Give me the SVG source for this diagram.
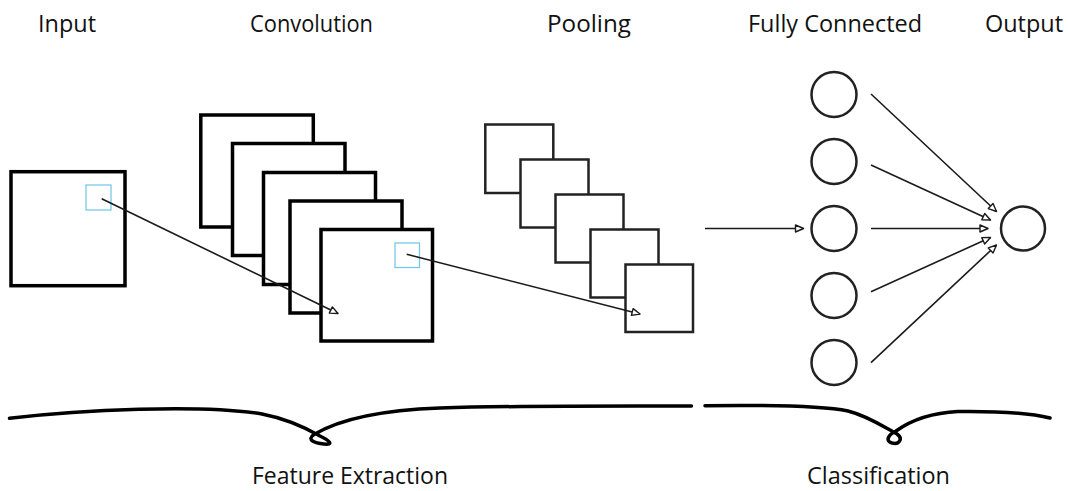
<svg xmlns="http://www.w3.org/2000/svg" width="1068" height="491" viewBox="0 0 1068 491">
<style>
text{font-family:"Open Sans","Noto Sans","Liberation Sans",sans-serif;font-size:23.5px;fill:#111}
.map{fill:#fff;stroke:#000;stroke-width:3.5}
.pool{fill:#fff;stroke:#222;stroke-width:2.5}
.kern{fill:none;stroke:#78c8ec;stroke-width:1.3}
.neuron{fill:#fff;stroke:#222;stroke-width:2.5}
.edge{fill:none;stroke:#1a1a1a;stroke-width:1.6;marker-end:url(#tri)}
.brace{fill:none;stroke:#000;stroke-width:3.5;stroke-linecap:round;stroke-linejoin:round}
</style>
<defs>
<marker id="tri" markerUnits="userSpaceOnUse" markerWidth="12" markerHeight="10" refX="9" refY="4" orient="auto" overflow="visible">
<path d="M1,0.5 L9,4 L1,7.5 Z" fill="#fff" stroke="#1a1a1a" stroke-width="1.4" stroke-linejoin="round"/>
</marker>
</defs>
<rect width="1068" height="491" fill="#fff"/>

<g id="labels">
<text x="38" y="32" textLength="58" lengthAdjust="spacingAndGlyphs">Input</text>
<text x="250" y="32" textLength="123" lengthAdjust="spacingAndGlyphs">Convolution</text>
<text x="547" y="32" textLength="84" lengthAdjust="spacingAndGlyphs">Pooling</text>
<text x="748" y="32" textLength="174" lengthAdjust="spacingAndGlyphs">Fully Connected</text>
<text x="985" y="32" textLength="78" lengthAdjust="spacingAndGlyphs">Output</text>
<text x="252" y="484" textLength="196" lengthAdjust="spacingAndGlyphs">Feature Extraction</text>
<text x="807" y="484" textLength="143" lengthAdjust="spacingAndGlyphs">Classification</text>
</g>

<g id="input">
<rect class="map" x="11" y="171.7" width="114" height="114"/>
<rect class="kern" x="86" y="185" width="25" height="25"/>
</g>

<g id="convolution">
<rect class="map" x="200.8" y="115" width="112.5" height="112"/>
<rect class="map" x="232.5" y="143.5" width="112.5" height="112"/>
<rect class="map" x="263.5" y="172.5" width="112" height="112"/>
<rect class="map" x="290" y="201" width="112" height="112"/>
<rect class="map" x="321" y="229.5" width="111.5" height="111.5"/>
<rect class="kern" x="395" y="243" width="24.5" height="24.5"/>
</g>

<g id="pooling">
<rect class="pool" x="485.3" y="124.5" width="68" height="68.5"/>
<rect class="pool" x="520.5" y="159.5" width="68" height="68"/>
<rect class="pool" x="555.5" y="194.5" width="68" height="68"/>
<rect class="pool" x="590.5" y="229.5" width="68" height="68"/>
<rect class="pool" x="625.5" y="264.5" width="67.5" height="67.5"/>
</g>

<g id="fully-connected">
<circle class="neuron" cx="834" cy="94.5" r="22.5"/>
<circle class="neuron" cx="834" cy="161.5" r="22.5"/>
<circle class="neuron" cx="834" cy="228.5" r="22.5"/>
<circle class="neuron" cx="834" cy="295.5" r="22.5"/>
<circle class="neuron" cx="834" cy="362.5" r="22.5"/>
</g>

<g id="output">
<circle class="neuron" cx="1023" cy="228.5" r="22"/>
</g>

<g id="connectors">
<line class="edge" x1="101.7" y1="198.7" x2="338" y2="313.5"/>
<line class="edge" x1="406.7" y1="254.3" x2="640" y2="314"/>
<line class="edge" x1="705" y1="228.5" x2="803.5" y2="228.5"/>
<line class="edge" x1="871" y1="94" x2="996.5" y2="211.5"/>
<line class="edge" x1="871" y1="165" x2="990.5" y2="220"/>
<line class="edge" x1="871" y1="228.5" x2="988" y2="228.5"/>
<line class="edge" x1="871" y1="291.7" x2="990.5" y2="237.5"/>
<line class="edge" x1="871" y1="362.7" x2="996.5" y2="245"/>
</g>

<g id="feature-extraction-brace">
<path class="brace" d="M9.5,418.3 C80,410 200,404 262,414 C288,419 306,428 320,436 C330,441 334,445 324,444 C315,443 306,440 314,434.5 C340,419 382,410 440,408 C520,405.5 600,406 691.5,406"/>
</g>
<g id="classification-brace">
<path class="brace" d="M705,405.7 C760,405 818,405 848,411 C868,416 884,427 897,434 C903,438 900,445 892,443 C885,441 888,435 896,431 C910,421 928,413 958,411.5 C1000,411 1030,413 1050,418"/>
</g>
</svg>
